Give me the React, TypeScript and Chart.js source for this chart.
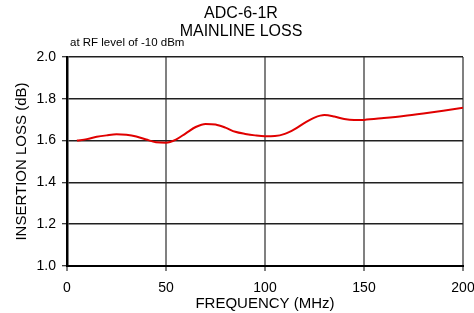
import React, { useEffect, useRef } from "react";
import { Chart, registerables } from "chart.js";

Chart.register(...registerables);

const titleLines = ["ADC-6-1R", "MAINLINE LOSS"];
const noteText = "at RF level of -10 dBm";
const xTitle = "FREQUENCY (MHz)";
const yTitle = "INSERTION LOSS (dB)";

const frequency = [5, 10, 15, 20, 25, 30, 35, 40, 45, 50, 55, 60, 65, 70, 75, 80, 85, 90, 95, 100, 105, 110, 115, 120, 125, 130, 135, 140, 145, 150, 160, 170, 180, 190, 200];
const loss = [1.600, 1.607, 1.618, 1.625, 1.630, 1.628, 1.620, 1.605, 1.592, 1.590, 1.605, 1.635, 1.665, 1.680, 1.677, 1.662, 1.642, 1.632, 1.625, 1.621, 1.622, 1.632, 1.655, 1.685, 1.710, 1.722, 1.715, 1.703, 1.698, 1.699, 1.708, 1.718, 1.730, 1.743, 1.757];

const FONT = "'Liberation Sans', Arial, sans-serif";

const textPlugin = {
  id: "texts",
  afterDraw(chart: any) {
    const ctx = chart.ctx;
    const area = chart.chartArea;
    ctx.save();
    ctx.fillStyle = "#000";
    ctx.font = `16px ${FONT}`;
    ctx.textAlign = "center";
    ctx.textBaseline = "middle";
    const cx = 241;
    ctx.fillText(titleLines[0], cx, 14);
    ctx.fillText(titleLines[1], cx, 32);
    ctx.font = `11.5px ${FONT}`;
    ctx.textAlign = "left";
    ctx.textBaseline = "alphabetic";
    ctx.fillText(noteText, area.left + 3, 46);
    ctx.restore();
  },
};

export default function App() {
  const ref = useRef<HTMLCanvasElement>(null);
  useEffect(() => {
    const chart = new Chart(ref.current as HTMLCanvasElement, {
      type: "line",
      data: {
        datasets: [
          {
            data: frequency.map((f, i) => ({ x: f, y: loss[i] })),
            borderColor: "#e00000",
            borderWidth: 2,
            pointRadius: 0,
            tension: 0.4,
            cubicInterpolationMode: "monotone",
          },
        ],
      },
      options: {
        animation: false,
        responsive: false,
        maintainAspectRatio: false,
        layout: { padding: { top: 57, right: 11, left: 0, bottom: 0 } },
        plugins: { legend: { display: false }, title: { display: false }, tooltip: { enabled: false } },
        scales: {
          x: {
            type: "linear",
            min: 0,
            max: 200,
            ticks: { stepSize: 50, color: "#000", font: { family: FONT, size: 14 }, padding: 9, maxRotation: 0 },
            grid: { color: "#808080", lineWidth: 2, tickLength: 5, tickColor: "#000", tickWidth: 1 },
            border: { color: "#000", width: 2 },
            title: { display: true, text: xTitle, color: "#000", font: { family: FONT, size: 15 }, padding: { top: 0, bottom: 0 } },
            afterFit(scale: any) {
              scale.height = 47;
              scale.paddingLeft = 0;
              scale.paddingRight = 0;
            },
          },
          y: {
            min: 1.0,
            max: 2.0,
            ticks: { stepSize: 0.2, color: "#000", font: { family: FONT, size: 14 }, padding: 6, callback: (v: any) => Number(v).toFixed(1) },
            grid: { color: "#202020", lineWidth: 1.5, tickLength: 5, tickColor: "#000", tickWidth: 1 },
            border: { color: "#000", width: 2.5 },
            title: { display: true, text: yTitle, color: "#000", font: { family: FONT, size: 15 }, padding: { top: 13, bottom: 0 } },
            afterFit(scale: any) {
              scale.width = 67;
              scale.paddingTop = 0;
              scale.paddingBottom = 0;
            },
          },
        },
      },
      plugins: [textPlugin],
    } as any);
    return () => chart.destroy();
  }, []);
  return (
    <div style={{ position: "fixed", left: 0, top: 0, width: 474, height: 313, background: "#fff" }}>
      <canvas ref={ref} width={474} height={313} style={{ display: "block" }} />
    </div>
  );
}
